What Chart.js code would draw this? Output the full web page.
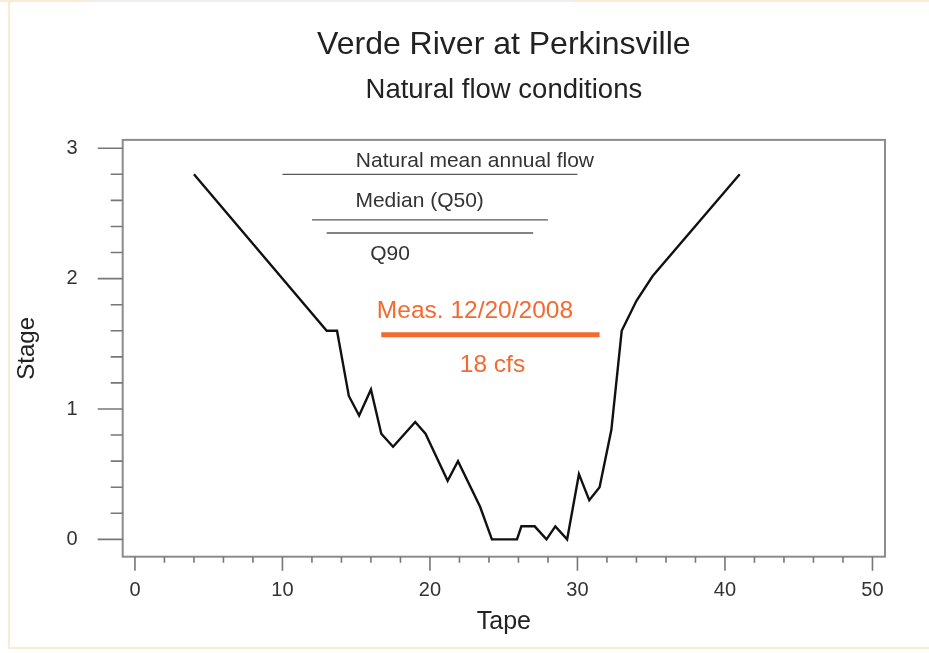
<!DOCTYPE html>
<html><head><meta charset="utf-8">
<script src="https://cdn.jsdelivr.net/npm/chart.js@4.4.1/dist/chart.umd.min.js"></script>
<style>html,body{margin:0;padding:0;background:#fff;}#wrap{width:929px;height:653px;position:relative;}</style>
</head><body><div id="wrap"><canvas id="c" width="929" height="653"></canvas></div>
<script>
// ---- data ----
const tape  = [4, 13, 13.7, 14.5, 15.2, 16, 16.7, 17.5, 19, 19.7, 21.2, 21.9, 23.4, 24.2, 25.9, 26.2, 27.1, 27.9, 28.5, 29.3, 30.1, 30.8, 31.5, 32.3, 33, 34, 35.1, 41];
const stage = [2.8, 1.6, 1.6, 1.1, 0.95, 1.15, 0.81, 0.71, 0.9, 0.81, 0.45, 0.6, 0.25, 0, 0, 0.1, 0.1, 0, 0.1, 0, 0.5, 0.3, 0.4, 0.84, 1.6, 1.83, 2.02, 2.8];
const flowNames = ['Natural mean annual flow', 'Median (Q50)', 'Q90'];
const flowStage = [2.8, 2.45, 2.35];
const flowFrom  = [10, 12, 13];
const flowTo    = [30, 28, 27];
const measName  = 'Meas. 12/20/2008';
const measFlow  = '18 cfs';
const measStage = 1.57;
const measFrom  = 16.7;
const measTo    = 31.5;
const xTickVals = [0, 10, 20, 30, 40, 50];
const yTickVals = [0, 1, 2, 3];
const titleText = 'Verde River at Perkinsville';
const subtitleText = 'Natural flow conditions';
const xTitle = 'Tape';
const yTitle = 'Stage';

const FONT = "'Liberation Sans', Arial, sans-serif";
const ORANGE = '#F26A30';

const datasets = [{
  data: tape.map((x, i) => ({x: x, y: stage[i]})),
  borderColor: '#111', borderWidth: 2.4, pointRadius: 0, tension: 0, borderJoinStyle: 'miter'
}];
flowNames.forEach((n, i) => {
  datasets.push({
    data: [{x: flowFrom[i], y: flowStage[i]}, {x: flowTo[i], y: flowStage[i]}],
    borderColor: '#5a5a5a', borderWidth: 1.3, pointRadius: 0
  });
});
datasets.push({
  data: [{x: measFrom, y: measStage}, {x: measTo, y: measStage}],
  borderColor: ORANGE, borderWidth: 5, pointRadius: 0, borderCapStyle: 'butt'
});

const framePlugin = {
  id: 'frame',
  beforeDraw(chart) {
    const c = chart.ctx;
    c.save();
    c.fillStyle = '#fff';
    c.fillRect(0, 0, chart.width, chart.height);
    c.strokeStyle = '#FBEBD2';
    c.lineWidth = 2;
    c.beginPath();
    c.moveTo(9, 0); c.lineTo(9, 648); c.lineTo(929, 648);
    c.moveTo(0, 1); c.lineTo(86, 1);
    c.moveTo(573, 1); c.lineTo(929, 1);
    c.stroke();
    c.strokeStyle = '#EFEFEF';
    c.beginPath(); c.moveTo(86, 1); c.lineTo(573, 1); c.stroke();
    c.restore();
  },
  afterDraw(chart) {
    const c = chart.ctx, a = chart.chartArea;
    const xs = chart.scales.x, ys = chart.scales.y;
    c.save();
    c.strokeStyle = '#8c8c8c';
    c.lineWidth = 2;
    c.strokeRect(a.left, a.top, a.right - a.left, a.bottom - a.top);
    c.lineWidth = 1.6;
    c.strokeStyle = '#777';
    c.beginPath();
    for (let v = 0; v <= 50; v += 2) {
      const px = xs.getPixelForValue(v);
      const len = (v % 10 === 0) ? 14 : 6;
      c.moveTo(px, a.bottom); c.lineTo(px, a.bottom + len);
    }
    for (let k = 0; k <= 15; k++) {
      const v = k / 5;
      const py = ys.getPixelForValue(v);
      const len = (k % 5 === 0) ? 25 : 12;
      c.moveTo(a.left, py); c.lineTo(a.left - len, py);
    }
    c.stroke();
    c.restore();
  }
};

const labelPlugin = {
  id: 'labels',
  afterDatasetsDraw(chart) {
    const c = chart.ctx;
    const xs = chart.scales.x, ys = chart.scales.y;
    const put = (txt, x, y, size, color) => {
      c.font = size + 'px ' + FONT;
      c.fillStyle = color;
      c.textAlign = 'center';
      c.textBaseline = 'middle';
      c.fillText(txt, xs.getPixelForValue(x), ys.getPixelForValue(y));
    };
    c.save();
    put(flowNames[0], 23.05, 2.90, 21, '#333');
    put(flowNames[1], 19.3, 2.59, 21, '#333');
    put(flowNames[2], 17.3, 2.19, 21, '#333');
    put(measName, 23.05, 1.75, 24.5, ORANGE);
    put(measFlow, 24.24, 1.333, 24.5, ORANGE);
    c.restore();
  }
};

new Chart(document.getElementById('c'), {
  type: 'line',
  data: {datasets: datasets},
  options: {
    responsive: false, animation: false, devicePixelRatio: 1,
    layout: {padding: {left: 0, right: 44, top: 0, bottom: 0}},
    plugins: {
      legend: {display: false}, tooltip: {enabled: false},
      title: {display: true, fullSize: false, text: titleText, color: '#222',
        font: {family: FONT, size: 32, weight: 'normal'}, padding: {top: 25.8, bottom: 9.6}},
      subtitle: {display: true, fullSize: false, text: subtitleText, color: '#222',
        font: {family: FONT, size: 27.5, weight: 'normal'}, padding: {top: 0, bottom: 33.1}}
    },
    scales: {
      x: {
        type: 'linear', min: -0.83, max: 50.85,
        afterBuildTicks: s => { s.ticks = xTickVals.map(v => ({value: v})); },
        afterFit: s => { s.height = 96.3; },
        grid: {display: false, drawTicks: false}, border: {display: false},
        ticks: {padding: 21.3, color: '#333', font: {family: FONT, size: 20}, maxRotation: 0, autoSkip: false},
        title: {display: true, text: xTitle, color: '#222', font: {family: FONT, size: 25}, padding: {top: 0, bottom: 16}}
      },
      y: {
        type: 'linear', min: -0.133, max: 3.064,
        afterBuildTicks: s => { s.ticks = yTickVals.map(v => ({value: v})); },
        afterFit: s => { s.width = 122.7; },
        grid: {display: false, drawTicks: false}, border: {display: false},
        ticks: {padding: 45, color: '#333', font: {family: FONT, size: 20}, autoSkip: false},
        title: {display: true, text: yTitle, color: '#222', font: {family: FONT, size: 24}, padding: {top: 12.6, bottom: 0}}
      }
    }
  },
  plugins: [framePlugin, labelPlugin]
});
</script>
</body></html>
